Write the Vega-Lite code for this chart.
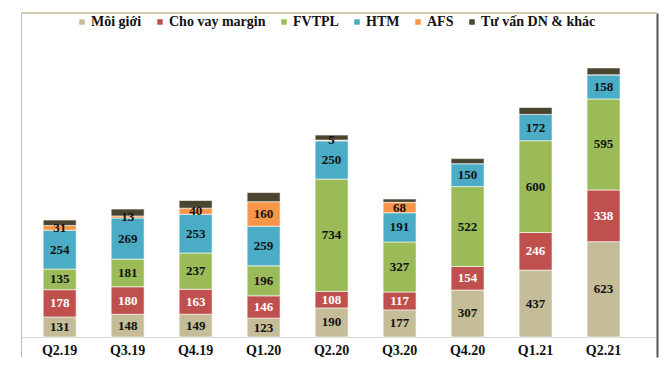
{
  "$schema": "https://vega.github.io/schema/vega-lite/v6.json",
  "width": 636,
  "height": 344,
  "autosize": {"type": "none"},
  "padding": {"left": 21, "top": 13, "right": 10, "bottom": 20},
  "background": "white",
  "config": {"view": {"stroke": null}, "font": "Liberation Serif"},
  "data": {
    "values": [
      {"q": "Q2.19", "cat": "Môi giới", "k": 1, "value": 131},
      {"q": "Q2.19", "cat": "Cho vay margin", "k": 2, "value": 178},
      {"q": "Q2.19", "cat": "FVTPL", "k": 3, "value": 135},
      {"q": "Q2.19", "cat": "HTM", "k": 4, "value": 254},
      {"q": "Q2.19", "cat": "AFS", "k": 5, "value": 31},
      {"q": "Q2.19", "cat": "Tư vấn DN & khác", "k": 6, "value": 35},
      {"q": "Q3.19", "cat": "Môi giới", "k": 1, "value": 148},
      {"q": "Q3.19", "cat": "Cho vay margin", "k": 2, "value": 180},
      {"q": "Q3.19", "cat": "FVTPL", "k": 3, "value": 181},
      {"q": "Q3.19", "cat": "HTM", "k": 4, "value": 269},
      {"q": "Q3.19", "cat": "AFS", "k": 5, "value": 13},
      {"q": "Q3.19", "cat": "Tư vấn DN & khác", "k": 6, "value": 45},
      {"q": "Q4.19", "cat": "Môi giới", "k": 1, "value": 149},
      {"q": "Q4.19", "cat": "Cho vay margin", "k": 2, "value": 163},
      {"q": "Q4.19", "cat": "FVTPL", "k": 3, "value": 237},
      {"q": "Q4.19", "cat": "HTM", "k": 4, "value": 253},
      {"q": "Q4.19", "cat": "AFS", "k": 5, "value": 40},
      {"q": "Q4.19", "cat": "Tư vấn DN & khác", "k": 6, "value": 50},
      {"q": "Q1.20", "cat": "Môi giới", "k": 1, "value": 123},
      {"q": "Q1.20", "cat": "Cho vay margin", "k": 2, "value": 146},
      {"q": "Q1.20", "cat": "FVTPL", "k": 3, "value": 196},
      {"q": "Q1.20", "cat": "HTM", "k": 4, "value": 259},
      {"q": "Q1.20", "cat": "AFS", "k": 5, "value": 160},
      {"q": "Q1.20", "cat": "Tư vấn DN & khác", "k": 6, "value": 60},
      {"q": "Q2.20", "cat": "Môi giới", "k": 1, "value": 190},
      {"q": "Q2.20", "cat": "Cho vay margin", "k": 2, "value": 108},
      {"q": "Q2.20", "cat": "FVTPL", "k": 3, "value": 734},
      {"q": "Q2.20", "cat": "HTM", "k": 4, "value": 250},
      {"q": "Q2.20", "cat": "AFS", "k": 5, "value": 5},
      {"q": "Q2.20", "cat": "Tư vấn DN & khác", "k": 6, "value": 33},
      {"q": "Q3.20", "cat": "Môi giới", "k": 1, "value": 177},
      {"q": "Q3.20", "cat": "Cho vay margin", "k": 2, "value": 117},
      {"q": "Q3.20", "cat": "FVTPL", "k": 3, "value": 327},
      {"q": "Q3.20", "cat": "HTM", "k": 4, "value": 191},
      {"q": "Q3.20", "cat": "AFS", "k": 5, "value": 68},
      {"q": "Q3.20", "cat": "Tư vấn DN & khác", "k": 6, "value": 22},
      {"q": "Q4.20", "cat": "Môi giới", "k": 1, "value": 307},
      {"q": "Q4.20", "cat": "Cho vay margin", "k": 2, "value": 154},
      {"q": "Q4.20", "cat": "FVTPL", "k": 3, "value": 522},
      {"q": "Q4.20", "cat": "HTM", "k": 4, "value": 150},
      {"q": "Q4.20", "cat": "AFS", "k": 5, "value": 0},
      {"q": "Q4.20", "cat": "Tư vấn DN & khác", "k": 6, "value": 33},
      {"q": "Q1.21", "cat": "Môi giới", "k": 1, "value": 437},
      {"q": "Q1.21", "cat": "Cho vay margin", "k": 2, "value": 246},
      {"q": "Q1.21", "cat": "FVTPL", "k": 3, "value": 600},
      {"q": "Q1.21", "cat": "HTM", "k": 4, "value": 172},
      {"q": "Q1.21", "cat": "AFS", "k": 5, "value": 0},
      {"q": "Q1.21", "cat": "Tư vấn DN & khác", "k": 6, "value": 45},
      {"q": "Q2.21", "cat": "Môi giới", "k": 1, "value": 623},
      {"q": "Q2.21", "cat": "Cho vay margin", "k": 2, "value": 338},
      {"q": "Q2.21", "cat": "FVTPL", "k": 3, "value": 595},
      {"q": "Q2.21", "cat": "HTM", "k": 4, "value": 158},
      {"q": "Q2.21", "cat": "AFS", "k": 5, "value": 0},
      {"q": "Q2.21", "cat": "Tư vấn DN & khác", "k": 6, "value": 45}
    ]
  },
  "transform": [
    {"stack": "value", "groupby": ["q"], "sort": [{"field": "k", "order": "ascending"}], "as": ["y0", "y1"]},
    {"calculate": "(datum.y0 + datum.y1) / 2", "as": "mid"}
  ],
  "layer": [
    {
      "mark": {"type": "bar", "stroke": "white", "strokeWidth": 0.6},
      "encoding": {
        "x": {
          "field": "q", "type": "nominal", "sort": null,
          "scale": {"paddingInner": 0.515, "paddingOuter": 0.435, "align": 0.375},
          "axis": {"orient": "bottom", "offset": -20, "title": null, "domainColor": "#d9d9d9", "ticks": false, "labelAngle": 0, "labelFont": "Liberation Serif", "labelFontWeight": "bold", "labelFontSize": 14, "labelColor": "#111111", "labelPadding": 6}
        },
        "y": {
          "field": "y0", "type": "quantitative",
          "scale": {"domain": [-131, 2118], "nice": false, "zero": false},
          "axis": {"orient": "left", "title": null, "labels": false, "ticks": false, "grid": false, "domainColor": "#bdbdbd"}
        },
        "y2": {"field": "y1"},
        "color": {
          "field": "cat", "type": "nominal",
          "scale": {
            "domain": ["Môi giới", "Cho vay margin", "FVTPL", "HTM", "AFS", "Tư vấn DN & khác"],
            "range": ["#c4bd97", "#c0504d", "#9bbb59", "#4bacc6", "#f79646", "#4a4530"]
          },
          "legend": {
            "orient": "none", "legendX": 54, "legendY": 2, "direction": "horizontal", "title": null,
            "symbolType": "square", "symbolSize": 30, "symbolStrokeWidth": 0,
            "labelFont": "Liberation Serif", "labelFontWeight": "bold", "labelFontSize": 14, "labelColor": "#111111",
            "columnPadding": 11, "labelOffset": 2
          }
        }
      }
    },
    {
      "transform": [{"filter": "datum.cat !== 'Tư vấn DN & khác' && datum.value > 0"}],
      "mark": {"type": "text", "font": "Liberation Serif", "fontWeight": "bold", "fontSize": 13, "baseline": "middle"},
      "encoding": {
        "x": {
          "field": "q", "type": "nominal", "sort": null,
          "scale": {"paddingInner": 0.515, "paddingOuter": 0.435, "align": 0.375},
          "axis": null
        },
        "y": {
          "field": "mid", "type": "quantitative",
          "scale": {"domain": [-131, 2118], "nice": false, "zero": false},
          "axis": {"orient": "right", "title": null, "labels": false, "ticks": false, "grid": false, "domainColor": "#555555", "domainWidth": 2}
        },
        "text": {"field": "value", "type": "quantitative"},
        "color": {"condition": {"test": "datum.cat === 'Cho vay margin'", "value": "white"}, "value": "#111111"}
      }
    },
    {
      "mark": {"type": "rule", "color": "#cfcab0", "strokeWidth": 1.5},
      "encoding": {
        "y": {"datum": 2118, "axis": null}
      }
    }
  ],
  "resolve": {"axis": {"x": "independent", "y": "independent"}}
}
